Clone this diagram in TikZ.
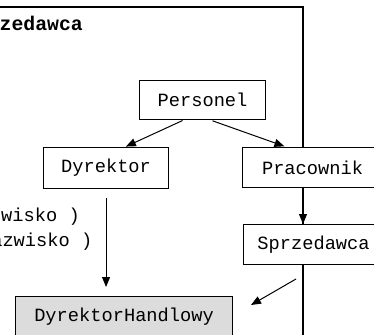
\documentclass[tikz,border=0pt]{standalone}
\usepackage{fontspec}
\setmonofont{Liberation Mono}
\usetikzlibrary{arrows.meta,calc}
\definecolor{boxgray}{RGB}{220,220,220}
\tikzset{
  classbox/.style={draw=black, line width=1.1pt, fill=white, inner sep=0pt,
    font=\ttfamily\fontsize{18.7}{22}\selectfont, anchor=north west},
  arr/.style={line width=1pt, -{Triangle[length=10pt,width=8pt]}},
  frameline/.style={line width=1.6pt},
  note/.style={font=\ttfamily\fontsize{18.7}{22}\selectfont, inner sep=0pt, anchor=east}
}
\begin{document}
\begin{tikzpicture}[x=1pt,y=-1pt]
\useasboundingbox (0,0) rectangle (374,334);
% package frame
\coordinate (fr) at (303,7);
\draw[frameline] (-10,7) -- (fr) -- (303,345);
\node[font=\ttfamily\bfseries\fontsize{19.8}{22}\selectfont, inner sep=0pt, anchor=base east]
  (title) at (83,31) {Sprzedawca};
% classes
\node[classbox, minimum width=126pt, minimum height=39pt] (per) at (139,80) {Personel};
\node[classbox, minimum width=125pt, minimum height=41pt] (dyr) at (43,147) {Dyrektor};
\node[classbox, minimum width=140pt, minimum height=40pt] (pra) at (242,147) {Pracownik};
\node[classbox, minimum width=140pt, minimum height=40pt] (spr) at (243,224) {Sprzedawca};
\node[classbox, fill=boxgray, minimum width=217pt, minimum height=41pt] (dh) at (15,296) {DyrektorHandlowy};
% attribute lines
\node[note] (l1) at (80,217) {( nazwisko )};
\node[note] (l2) at (92.5,242) {( nazwisko )};
% generalisations
\draw[arr, shorten <=1pt, shorten >=1pt]
  ($(per.south west)!0.35!(per.south east)$) -- ($(dyr.north west)!0.65!(dyr.north east)$);
\draw[arr, shorten <=2pt, shorten >=2pt]
  ($(per.south west)!0.563!(per.south east)$) -- ($(pra.north west)!0.314!(pra.north east)$);
\draw[arr] (pra.south -| fr) -- (spr.north -| fr);
\draw[arr, shorten <=9pt, shorten >=9pt] (dyr.south) -- (dyr.south |- dh.north);
\coordinate (s1) at (296,279);
\coordinate (s2) at (251,305);
\draw[arr] (s1) -- (s2);
\end{tikzpicture}
\end{document}
